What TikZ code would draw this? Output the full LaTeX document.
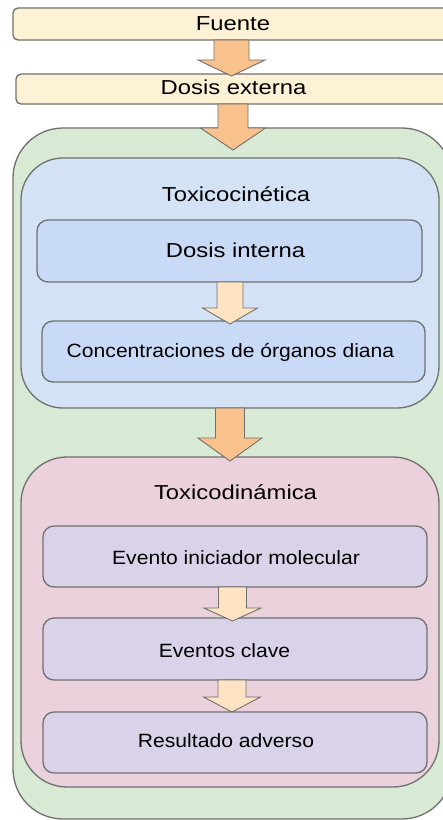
\documentclass[tikz,border=0pt]{standalone}
\usepackage{fontspec}
\setmainfont{Liberation Sans}
\newfontfamily\bigf[FakeStretch=1.18]{Liberation Sans}
\newfontfamily\smallf[FakeStretch=1.1]{Liberation Sans}
\usetikzlibrary{calc}
\definecolor{barfill}{HTML}{FDF1D6}
\definecolor{greenfill}{HTML}{D8EAD3}
\definecolor{bluefill}{HTML}{D3E3F5}
\definecolor{innerblue}{HTML}{C9DAF6}
\definecolor{pinkfill}{HTML}{EAD1DC}
\definecolor{innerpurple}{HTML}{D9D2E9}
\definecolor{strokegray}{HTML}{707070}
\definecolor{arroworange}{HTML}{F9C28C}
\definecolor{arrowpale}{HTML}{FDE3C1}
\newcommand{\fatarrow}[8]{%
  \draw[#1] let \p1=(#2.south), \p2=(#3.north) in
    ({#4pt-#5pt},\y1) -- ({#4pt-#5pt},{\y2-#8pt+#7pt}) -- ({#4pt-#6pt},{\y2-#8pt+#7pt})
    -- ({#4pt},{\y2-#8pt}) -- ({#4pt+#6pt},{\y2-#8pt+#7pt}) -- ({#4pt+#5pt},{\y2-#8pt+#7pt})
    -- ({#4pt+#5pt},\y1) -- cycle;}
\begin{document}
\begin{tikzpicture}[x=1pt,y=-1pt,
  boxbase/.style={draw=strokegray, line width=1.3pt, inner sep=0pt, outer sep=0pt},
  bar/.style={boxbase, fill=barfill, rounded corners=5pt},
  outergreen/.style={boxbase, fill=greenfill, rounded corners=50pt},
  outerblue/.style={boxbase, fill=bluefill, rounded corners=42pt},
  outerpink/.style={boxbase, fill=pinkfill, rounded corners=46pt},
  innerb/.style={boxbase, fill=innerblue, rounded corners=11pt},
  innerp/.style={boxbase, fill=innerpurple, rounded corners=11pt},
  bigtxt/.style={font=\bigf\fontsize{20.2pt}{24pt}\selectfont, text=black, inner sep=0pt, anchor=base},
  smalltxt/.style={font=\smallf\fontsize{19.2pt}{23pt}\selectfont, text=black, inner sep=0pt, anchor=base},
  orangearrow/.style={draw=strokegray, line width=0.9pt, fill=arroworange},
  palearrow/.style={draw=strokegray, line width=0.9pt, fill=arrowpale}]
\useasboundingbox (0,0) rectangle (443,820);
\clip (0,0) rectangle (443,820);
\fill[white] (0,0) rectangle (443,820);
% boxes
\node[bar, minimum width=447pt, minimum height=32pt] (fu) at (236.5,24) {};
\node[bar, minimum width=444pt, minimum height=30pt] (de) at (238,89) {};
\node[outergreen, minimum width=439pt, minimum height=691pt] (gr) at (232.5,473.5) {};
\node[outerblue, minimum width=418pt, minimum height=250pt] (tk) at (230,283) {};
\node[outerpink, minimum width=418pt, minimum height=330pt] (td) at (230,622) {};
\node[innerb, minimum width=385pt, minimum height=62pt] (di) at (229.5,251) {};
\node[innerb, minimum width=383pt, minimum height=61pt] (co) at (233.5,351.5) {};
\node[innerp, minimum width=384pt, minimum height=61pt] (ev) at (235,556.5) {};
\node[innerp, minimum width=384pt, minimum height=62pt] (ec) at (235,649) {};
\node[innerp, minimum width=384pt, minimum height=61pt] (ra) at (235,742.5) {};
% arrows
\fatarrow{orangearrow}{fu}{de}{231.5}{17.5}{33.5}{16}{2}
\fatarrow{orangearrow}{de}{gr}{233}{15}{32.5}{22}{22}
\fatarrow{palearrow}{di}{co}{230}{13}{27.5}{16}{3}
\fatarrow{orangearrow}{tk}{td}{230}{14.5}{32}{23}{4}
\fatarrow{palearrow}{ev}{ec}{232.5}{14}{28.5}{13}{3}
\fatarrow{palearrow}{ec}{ra}{232}{14}{28.5}{15}{0}
% texts
\node[bigtxt] (tfu) at (233,30) {Fuente};
\node[bigtxt] (tde) at (233.5,94) {Dosis externa};
\node[bigtxt] (ttk) at (236,201.5) {Toxicocinética};
\node[bigtxt] (tdi) at (235.5,257.5) {Dosis interna};
\node[smalltxt] (tco) at (230.5,357) {Concentraciones de órganos diana};
\node[bigtxt] (ttd) at (235.5,499) {Toxicodinámica};
\node[smalltxt] (tev) at (236,564) {Evento iniciador molecular};
\node[smalltxt] (tec) at (224.5,657) {Eventos clave};
\node[smalltxt] (tra) at (226,747) {Resultado adverso};
\end{tikzpicture}
\end{document}
